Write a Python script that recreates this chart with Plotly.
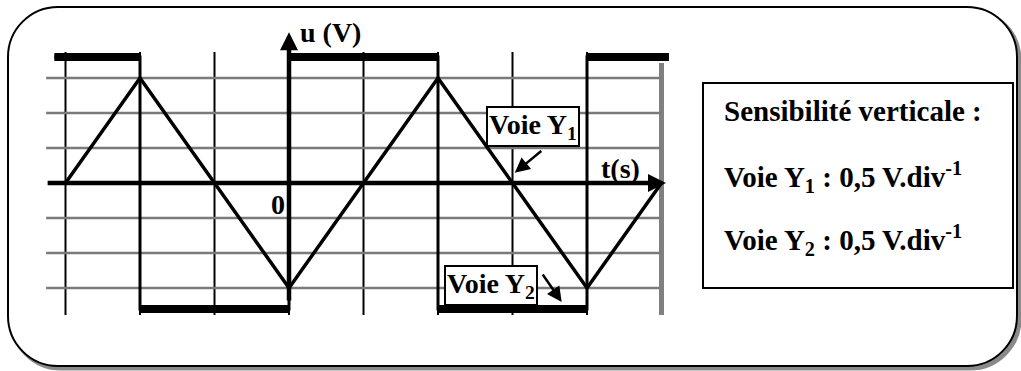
import plotly.graph_objects as go

# oscilloscope screen, in divisions
grid_t = [-3, -2, -1, 0, 1, 2, 3, 4]
grid_u = [-3, -2, -1, 1, 2, 3]
edge_t = 5

# voie Y1 : triangle
y1_t = [-3, -2, -1, 0, 1, 2, 3, 4, 5]
y1_u = [0, 3, 0, -3, 0, 3, 0, -3, 0]

# voie Y2 : carre
y2_t = [-3.15, -2, -2, 0, 0, 2, 2, 4, 4, 5.1]
y2_u = [3.6, 3.6, -3.6, -3.6, 3.6, 3.6, -3.6, -3.6, 3.6, 3.6]

W, H = 1021, 371
X0, DX = 289, 74.5   # pixel of t=0 and pixels per division
Y0, DY = 183, 35
FONT = "Liberation Serif"

fig = go.Figure()

# vertical grid lines
vx, vy = [], []
for t in grid_t:
    vx += [t, t, None]
    vy += [-3.77, 3.74, None]
fig.add_trace(go.Scatter(x=vx, y=vy, mode="lines", line=dict(color="black", width=2), hoverinfo="skip"))
fig.add_trace(go.Scatter(x=[edge_t, edge_t], y=[-3.77, 3.43], mode="lines",
                         line=dict(color="#808080", width=5), hoverinfo="skip"))

# horizontal grid lines
hx, hy = [], []
for u in grid_u:
    hx += [-3.26, 5.0, None]
    hy += [u, u, None]
fig.add_trace(go.Scatter(x=hx, y=hy, mode="lines", line=dict(color="#7a7a7a", width=2.5), hoverinfo="skip"))

# square wave: thin transitions, thick plateaus
fig.add_trace(go.Scatter(x=y2_t, y=y2_u, mode="lines", line=dict(color="black", width=3), hoverinfo="skip"))
bx, by = [], []
for i in range(len(y2_t) - 1):
    if y2_u[i] == y2_u[i + 1]:
        bx += [y2_t[i], y2_t[i + 1], None]
        by += [y2_u[i], y2_u[i + 1], None]
fig.add_trace(go.Scatter(x=bx, y=by, mode="lines", line=dict(color="black", width=8), hoverinfo="skip"))

# triangle
fig.add_trace(go.Scatter(x=y1_t, y=y1_u, mode="lines", line=dict(color="black", width=3.5), hoverinfo="skip"))

ann = []
# axes with arrows
ann.append(dict(x=5.06, y=0, ax=-3.26, ay=0, xref="x", yref="y", axref="x", ayref="y",
                text="", showarrow=True, arrowhead=2, arrowsize=0.8, arrowwidth=4.5, arrowcolor="black", standoff=0))
ann.append(dict(x=0, y=4.31, ax=0, ay=-3.4, xref="x", yref="y", axref="x", ayref="y",
                text="", showarrow=True, arrowhead=2, arrowsize=0.8, arrowwidth=4.5, arrowcolor="black", standoff=0))

lab = dict(family=FONT, size=28, color="black")
ann.append(dict(x=0.12, y=4.29, text="<b>u (V)</b>", xanchor="left", yanchor="middle", showarrow=False, font=lab))
ann.append(dict(x=4.16, y=0.42, text="<b>t(s)</b>", xanchor="left", yanchor="middle", showarrow=False, font=lab))
ann.append(dict(x=-0.15, y=-0.6, text="<b>0</b>", xanchor="center", yanchor="middle", showarrow=False, font=lab))

# channel labels and their arrows
ann.append(dict(x=3.275, y=1.61, text="<b>Voie Y<sub>1</sub></b>", showarrow=False, font=lab,
                bgcolor="white", bordercolor="black", borderwidth=2, borderpad=1))
ann.append(dict(x=3.03, y=0.29, ax=28, ay=-23, text="", showarrow=True, arrowhead=2, arrowsize=1.2,
                arrowwidth=2.5, arrowcolor="black", standoff=0))
ann.append(dict(x=2.705, y=-2.93, text="<b>Voie Y<sub>2</sub></b>", showarrow=False, font=lab,
                bgcolor="white", bordercolor="black", borderwidth=2, borderpad=1))
ann.append(dict(x=3.66, y=-3.4, ax=-20, ay=-29, text="", showarrow=True, arrowhead=2, arrowsize=1.2,
                arrowwidth=2.5, arrowcolor="black", standoff=0))

# sensitivity box text
box_lines = ["<b>Sensibilité verticale :</b>",
             "<b>Voie Y<sub>1</sub> : 0,5 V.div<sup>-1</sup></b>",
             "<b>Voie Y<sub>2</sub> : 0,5 V.div<sup>-1</sup></b>"]
for txt, ypx in zip(box_lines, [111, 177, 240]):
    ann.append(dict(x=722 / W, y=1 - ypx / H, xref="paper", yref="paper", text=txt,
                    xanchor="left", yanchor="middle", showarrow=False,
                    font=dict(family=FONT, size=29, color="black")))


def rr(x0, y0, x1, y1, r):
    k = 0.5523 * r
    p = lambda x, y: f"{x / W:.5f},{1 - y / H:.5f}"
    return (f"M{p(x0 + r, y0)} L{p(x1 - r, y0)} C{p(x1 - r + k, y0)} {p(x1, y0 + r - k)} {p(x1, y0 + r)} "
            f"L{p(x1, y1 - r)} C{p(x1, y1 - r + k)} {p(x1 - r + k, y1)} {p(x1 - r, y1)} "
            f"L{p(x0 + r, y1)} C{p(x0 + r - k, y1)} {p(x0, y1 - r + k)} {p(x0, y1 - r)} "
            f"L{p(x0, y0 + r)} C{p(x0, y0 + r - k)} {p(x0 + r - k, y0)} {p(x0 + r, y0)} Z")


shapes = [
    dict(type="path", xref="paper", yref="paper", path=rr(11, 10, 1020, 369, 50),
         line=dict(color="#8a8a8a", width=3), fillcolor="#8a8a8a", layer="below"),
    dict(type="path", xref="paper", yref="paper", path=rr(8, 7, 1017, 366, 50),
         line=dict(color="black", width=2), fillcolor="white", layer="below"),
    dict(type="rect", xref="paper", yref="paper", x0=703 / W, x1=1013 / W, y0=1 - 288 / H, y1=1 - 83 / H,
         line=dict(color="black", width=2), fillcolor="rgba(0,0,0,0)"),
]

fig.update_layout(
    width=W, height=H, margin=dict(l=0, r=0, t=0, b=0),
    paper_bgcolor="white", plot_bgcolor="rgba(0,0,0,0)", showlegend=False,
    xaxis=dict(range=[-X0 / DX, (W - X0) / DX], visible=False, fixedrange=True),
    yaxis=dict(range=[(Y0 - H) / DY, Y0 / DY], visible=False, fixedrange=True),
    annotations=ann, shapes=shapes,
)

# drop the browser's default page margin so the figure fills the window
fig.write_html("out.html", config={"displayModeBar": False},
               post_script="document.body.style.margin = '0px';")
